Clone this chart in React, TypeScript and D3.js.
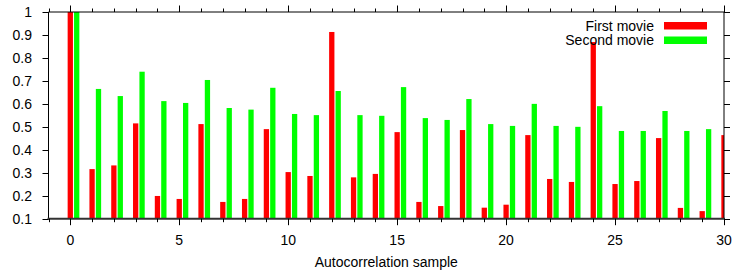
import React, { useEffect, useRef } from 'react'
import * as d3 from 'd3'

const samples = d3.range(0, 31)
const firstMovie = [
  1.0, 0.316, 0.332, 0.515, 0.199, 0.186, 0.512, 0.173, 0.186, 0.49,
  0.303, 0.286, 0.913, 0.28, 0.295, 0.477, 0.173, 0.155, 0.486, 0.148,
  0.161, 0.464, 0.273, 0.26, 0.869, 0.251, 0.264, 0.451, 0.147, 0.133,
  0.464,
]
const secondMovie = [
  1.0, 0.665, 0.634, 0.74, 0.612, 0.604, 0.704, 0.582, 0.575, 0.67,
  0.556, 0.551, 0.656, 0.551, 0.548, 0.673, 0.538, 0.53, 0.621, 0.512,
  0.504, 0.6, 0.504, 0.5, 0.59, 0.482, 0.482, 0.569, 0.482, 0.49,
  0.86,
]
const yTicks = [0.1, 0.2, 0.3, 0.4, 0.5, 0.6, 0.7, 0.8, 0.9, 1]
const xMajor = [0, 5, 10, 15, 20, 25, 30]
const seriesNames = ['First movie', 'Second movie']
const seriesColors = ['#ff0000', '#00ff00']

export default function App() {
  const svgRef = useRef<SVGSVGElement>(null)

  useEffect(() => {
    const svg = d3.select(svgRef.current)
    svg.selectAll('*').remove()

    const width = 734
    const height = 273
    const left = 48.5, right = 724, top = 12, bottom = 218.7
    const font = '"Liberation Sans", Arial, Helvetica, sans-serif'

    const x = d3.scaleLinear().domain([-1, 30]).range([left, right])
    const y = d3.scaleLinear().domain([0.1, 1]).range([bottom, top])
    const unit = x(1) - x(0)
    const barW = unit * 0.243
    const offsets = [0, unit * 0.294]

    svg.attr('width', width).attr('height', height)

    svg.append('defs').append('clipPath').attr('id', 'plot-clip')
      .append('rect')
      .attr('x', left).attr('y', top - 1)
      .attr('width', right - left).attr('height', bottom - top + 1)

    // Bars
    const bars = svg.append('g').attr('clip-path', 'url(#plot-clip)')
    ;[firstMovie, secondMovie].forEach((vals, si) => {
      bars.selectAll(`.bar-${si}`)
        .data(samples)
        .join('rect')
        .attr('class', `bar-${si}`)
        .attr('x', d => x(d) + offsets[si] - barW / 2)
        .attr('y', d => y(vals[d]))
        .attr('width', barW)
        .attr('height', d => y(0.1) - y(vals[d]))
        .attr('fill', seriesColors[si])
    })

    // Border
    const frame = svg.append('g').attr('stroke', '#000').attr('fill', 'none')
    frame.append('line').attr('x1', left).attr('x2', right).attr('y1', top).attr('y2', top)
    frame.append('line').attr('x1', left).attr('x2', left).attr('y1', top).attr('y2', bottom)
    frame.append('line').attr('x1', right).attr('x2', right).attr('y1', top).attr('y2', bottom)
    frame.append('line').attr('x1', left - 1).attr('x2', right + 1)
      .attr('y1', bottom).attr('y2', bottom)
      .attr('stroke', '#333').attr('stroke-width', 2)

    // Ticks
    const ticks = svg.append('g').attr('stroke', '#000').attr('stroke-width', 1)
    d3.range(-1, 31).forEach(v => {
      const len = xMajor.includes(v) ? 6.5 : 3.5
      const px = Math.round(x(v)) + 0.5
      ticks.append('line').attr('x1', px).attr('x2', px).attr('y1', bottom).attr('y2', bottom + len)
      ticks.append('line').attr('x1', px).attr('x2', px).attr('y1', top).attr('y2', top - len)
    })
    yTicks.forEach(v => {
      const py = Math.round(y(v)) + 0.5
      ticks.append('line').attr('x1', left - 6).attr('x2', left).attr('y1', py).attr('y2', py)
      ticks.append('line').attr('x1', right).attr('x2', right + 6).attr('y1', py).attr('y2', py)
    })

    // Labels
    const labels = svg.append('g')
      .attr('font-family', font).attr('font-size', 14).attr('fill', '#000')
    yTicks.forEach(v => {
      labels.append('text')
        .attr('x', 32).attr('y', y(v) + 5)
        .attr('text-anchor', 'end')
        .text(d3.format('~g')(v))
    })
    xMajor.forEach(v => {
      labels.append('text')
        .attr('x', x(v)).attr('y', 245)
        .attr('text-anchor', 'middle')
        .text(v)
    })
    labels.append('text')
      .attr('x', (left + right) / 2).attr('y', 266.5)
      .attr('text-anchor', 'middle')
      .text('Autocorrelation sample')

    // Legend
    seriesNames.forEach((name, i) => {
      const ly = 25.5 + i * 14.5
      labels.append('text')
        .attr('x', 654).attr('y', ly + 5)
        .attr('text-anchor', 'end')
        .text(name)
      svg.append('rect')
        .attr('x', 664).attr('y', ly - 3.5)
        .attr('width', 43).attr('height', 7.5)
        .attr('fill', seriesColors[i])
    })
  }, [])

  return (
    <svg
      ref={svgRef}
      style={{ position: 'absolute', left: 0, top: 0, background: '#fff' }}
    />
  )
}
